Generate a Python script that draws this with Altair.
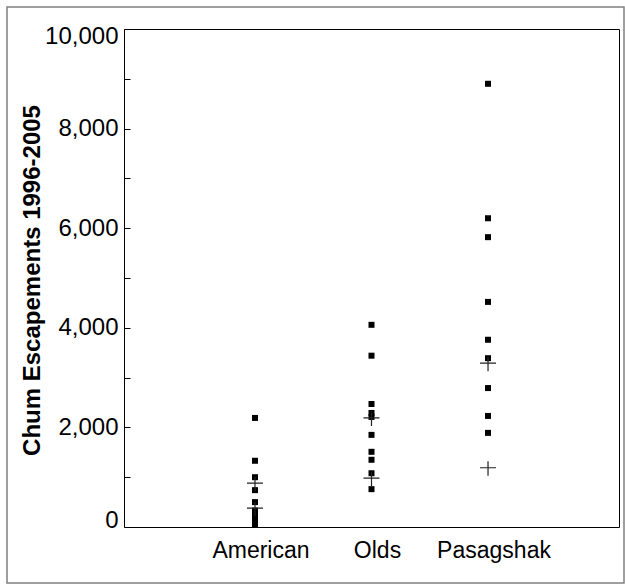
import altair as alt
import pandas as pd

sites = ["American", "Olds", "Pasagshak"]
american = [2190, 1330, 1000, 740, 500, 330, 240, 160, 90, 40]
olds = [4060, 3440, 2470, 2290, 2210, 1850, 1510, 1350, 1080, 760]
pasagshak = [8900, 6200, 5820, 4520, 3760, 3390, 2790, 2230, 1890]
goal_upper = [880, 2190, 3290]
goal_lower = [380, 980, 1190]
y_ticks = list(range(0, 10001, 1000))

rows = []
for s, vals in zip(sites, [american, olds, pasagshak]):
    for v in vals:
        rows.append({"site": s, "value": v})
df_pts = pd.DataFrame(rows)

grows = []
for s, lo, hi in zip(sites, goal_lower, goal_upper):
    grows.append({"site": s, "value": lo})
    grows.append({"site": s, "value": hi})
df_goal = pd.DataFrame(grows)

FONT = "Liberation Sans"

xscale = alt.Scale(type="band", paddingInner=0, paddingOuter=0.624, domain=sites)
yscale = alt.Scale(domain=[0, 10000], nice=False)

xaxis = alt.Axis(title=None, ticks=False, domain=False, labelAngle=0,
                 labelFontSize=23, labelFont=FONT, labelColor="black",
                 labelPadding=12, labelOffset=6)
yaxis = alt.Axis(values=y_ticks,
                 labelExpr="datum.value % 2000 == 0 ? format(datum.value, ',') : ''",
                 domain=False, offset=-6, tickSize=6, tickColor="black", tickWidth=1,
                 labelPadding=6, labelFlush=True, labelFlushOffset=5, labelOverlap=False,
                 labelFontSize=24, labelFont=FONT, labelColor="black", grid=False,
                 title="Chum Escapements 1996-2005", titleFontSize=24, titleFont=FONT,
                 titleFontWeight="bold", titleColor="black", titleX=-86, titleY=251)

frame = alt.Chart(pd.DataFrame({"k": [0]})).mark_rect(
    fill="white", fillOpacity=0, stroke="#808080", strokeWidth=1.5
).encode(x=alt.value(-117), x2=alt.value(500), y=alt.value(-22), y2=alt.value(554))

points = alt.Chart(df_pts).mark_point(
    shape="square", filled=True, size=36, color="black", opacity=1
).encode(
    x=alt.X("site:N", scale=xscale, axis=xaxis, sort=sites),
    y=alt.Y("value:Q", scale=yscale, axis=yaxis),
)

crosses = alt.Chart(df_goal).mark_point(
    shape="M-1,0L1,0M0,-0.8L0,1", filled=False, size=256, color="#222222",
    strokeWidth=1.2, opacity=1
).encode(
    x=alt.X("site:N", scale=xscale, sort=sites),
    y=alt.Y("value:Q", scale=yscale),
)

chart = alt.layer(frame, points, crosses).properties(
    width=495, height=498,
    autosize="none",
    padding={"left": 124, "top": 29, "right": 6, "bottom": 57},
).configure_view(stroke="black", strokeWidth=1)

chart.save("out.html", embed_options={"renderer": "svg", "actions": False})
